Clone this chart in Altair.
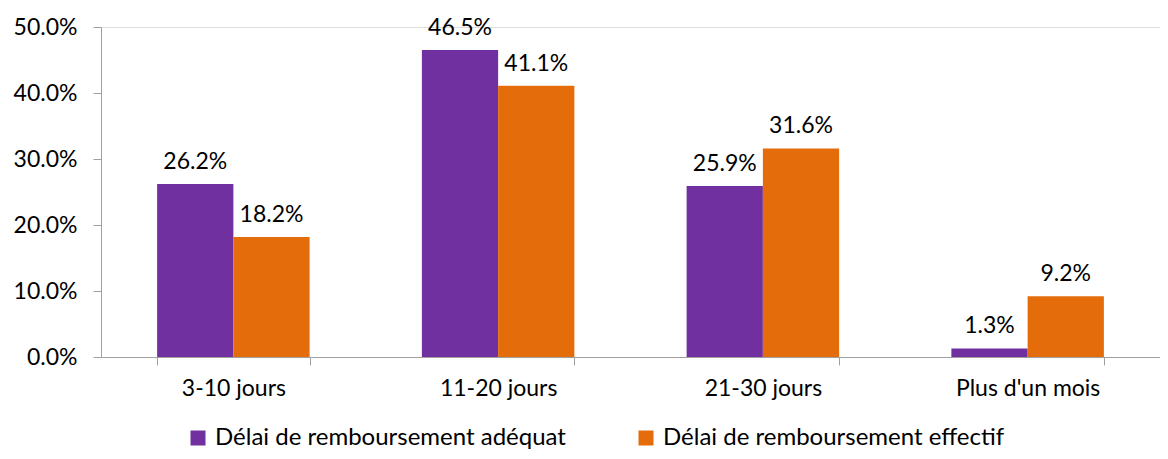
import altair as alt
import pandas as pd

categories = ["3-10 jours", "11-20 jours", "21-30 jours", "Plus d'un mois"]
series = ["Délai de remboursement adéquat", "Délai de remboursement effectif"]
adequat = [0.262, 0.465, 0.259, 0.013]
effectif = [0.182, 0.411, 0.316, 0.092]
colors = ["#7030A0", "#E46C0A"]

rows = []
for c, a, e in zip(categories, adequat, effectif):
    rows.append({"cat": c, "serie": series[0], "val": a})
    rows.append({"cat": c, "serie": series[1], "val": e})
df = pd.DataFrame(rows)

FONT = "Lato"

x = alt.X("cat:N", sort=categories, title=None,
          scale=alt.Scale(paddingInner=0.424, paddingOuter=0.212),
          axis=alt.Axis(labelAngle=0, tickBand="extent", domainColor="#A0A0A0",
                        tickColor="#A0A0A0", tickSize=8, labelPadding=12,
                        labelFontSize=23, labelFont=FONT, labelColor="#000000"))
xo = alt.XOffset("serie:N", sort=series)
y = alt.Y("val:Q", title=None,
          scale=alt.Scale(domain=[0, 0.5], nice=False),
          axis=alt.Axis(format=".1%", values=[0, 0.1, 0.2, 0.3, 0.4, 0.5], grid=False,
                        domainColor="#A0A0A0", tickColor="#A0A0A0", tickSize=8,
                        labelPadding=16, labelFontSize=23, labelFont=FONT,
                        labelColor="#000000"))
color = alt.Color("serie:N", sort=series, title=None,
                  scale=alt.Scale(domain=series, range=colors),
                  legend=alt.Legend(orient="none", legendX=85, legendY=399,
                                    direction="horizontal", columns=2,
                                    symbolType="square", symbolSize=225,
                                    symbolStrokeWidth=0, symbolOpacity=1,
                                    labelFontSize=24, labelFont=FONT,
                                    labelColor="#000000", columnPadding=68,
                                    labelOffset=5, labelLimit=1000))

bars = alt.Chart(df).mark_bar(opacity=1).encode(x=x, xOffset=xo, y=y, color=color)
labels = alt.Chart(df).mark_text(baseline="alphabetic", dy=-15, fontSize=23,
                                 font=FONT, color="#000000").encode(
    x=x, xOffset=xo, y=y, text=alt.Text("val:Q", format=".1%"))

chart = (bars + labels).properties(
    width=1059, height=330,
    autosize=alt.AutoSizeParams(type="none"),
    padding={"left": 93, "top": 19, "right": 0, "bottom": 94},
).configure_view(stroke=None).configure(background="white")

chart.save("out.html", embed_options={"renderer": "svg", "actions": False})
